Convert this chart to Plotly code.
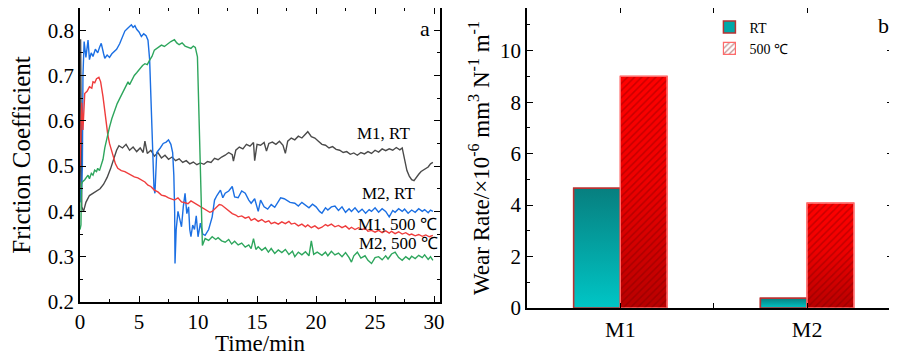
import plotly.graph_objects as go

# ---------------- Panel a: friction coefficient vs time ----------------
t_m1_rt = [0, 0.05, 0.1, 0.15, 0.3, 0.5, 0.8, 1.1, 1.4, 1.7, 2.0, 2.3, 2.6, 2.9, 3.1, 3.3, 3.6, 3.9, 4.2, 4.5,
           4.8, 5.1, 5.35, 5.5, 5.7, 6.0, 6.3, 6.6, 6.9, 7.2, 7.5, 7.8, 8.1, 8.4, 8.7, 9.0, 9.3, 9.6, 9.9, 10.2,
           10.5, 10.8, 11.1, 11.4, 11.7, 12.0, 12.3, 12.6, 12.9, 13.0, 13.2, 13.5, 13.8, 14.1, 14.4, 14.7, 14.8,
           15.0, 15.3, 15.6, 15.8, 16.0, 16.3, 16.6, 16.9, 17.2, 17.4, 17.6, 17.9, 18.2, 18.5, 18.8, 19.1, 19.3,
           19.6, 19.9, 20.2, 20.5, 20.8, 21.1, 21.4, 21.7, 22.0, 22.3, 22.6, 22.9, 23.2, 23.5, 23.8, 24.1, 24.4,
           24.7, 25.0, 25.3, 25.6, 25.9, 26.2, 26.5, 26.8, 27.1, 27.3, 27.5, 27.7, 27.9, 28.1, 28.3, 28.5, 28.7,
           28.9, 29.1, 29.3, 29.5, 29.7, 29.9]
f_m1_rt = [0.42, 0.78, 0.60, 0.41, 0.40, 0.42, 0.435, 0.44, 0.445, 0.45, 0.46, 0.475, 0.495, 0.52, 0.535, 0.545,
           0.54, 0.548, 0.535, 0.542, 0.532, 0.54, 0.53, 0.555, 0.528, 0.535, 0.522, 0.53, 0.518, 0.524, 0.515,
           0.52, 0.512, 0.516, 0.508, 0.512, 0.505, 0.509, 0.503, 0.507, 0.504, 0.51, 0.508, 0.517, 0.514, 0.52,
           0.524, 0.53, 0.525, 0.511, 0.535, 0.542, 0.538, 0.548, 0.544, 0.552, 0.512, 0.548, 0.546, 0.552, 0.533,
           0.55, 0.553, 0.548, 0.555, 0.546, 0.528, 0.555, 0.562, 0.558, 0.566, 0.562, 0.57, 0.576, 0.565, 0.562,
           0.555, 0.548, 0.546, 0.54, 0.543, 0.537, 0.535, 0.53, 0.532, 0.526, 0.529, 0.524, 0.53, 0.527, 0.532,
           0.528, 0.535, 0.531, 0.538, 0.534, 0.538, 0.535, 0.541, 0.536, 0.54, 0.515, 0.49, 0.478, 0.47, 0.468,
           0.476, 0.482, 0.488, 0.492, 0.496, 0.498, 0.505, 0.508]

t_m2_rt = [0, 0.1, 0.2, 0.25, 0.35, 0.5, 0.68, 0.8, 0.95, 1.1, 1.3, 1.5, 1.65, 1.8, 2.0, 2.1, 2.3, 2.5, 2.7, 2.9,
           3.1, 3.36, 3.6, 3.8, 4.0, 4.2, 4.35, 4.5, 4.65, 4.8, 5.0, 5.2, 5.4, 5.6, 5.76, 5.9, 6.05, 6.2, 6.27,
           6.35, 6.5, 6.8, 7.05, 7.3, 7.5, 7.7, 7.85, 7.95, 8.02, 8.05, 8.15, 8.3, 8.45, 8.6, 8.75, 8.9, 9.05,
           9.2, 9.3, 9.4, 9.55, 9.7, 9.85, 10.0, 10.2, 10.4, 10.6, 10.9, 11.2, 11.4, 11.6, 11.9, 12.1, 12.3,
           12.6, 12.9, 13.1, 13.4, 13.7, 14.0, 14.3, 14.5, 14.8, 15.1, 15.3, 15.6, 15.9, 16.2, 16.5, 16.8, 17.0,
           17.3, 17.5, 17.8, 18.2, 18.5, 18.8, 19.1, 19.4, 19.7, 20.0, 20.3, 20.5, 20.8, 21.0, 21.3, 21.6, 21.9,
           22.2, 22.5, 22.8, 23.0, 23.3, 23.6, 23.9, 24.2, 24.5, 24.7, 25.0, 25.3, 25.6, 25.9, 26.2, 26.5, 26.7,
           27.0, 27.3, 27.5, 27.8, 28.1, 28.4, 28.7, 29.0, 29.2, 29.5, 29.7, 29.9]
f_m2_rt = [0.45, 0.42, 0.50, 0.70, 0.775, 0.74, 0.778, 0.735, 0.75, 0.742, 0.758, 0.75, 0.762, 0.771, 0.748,
           0.738, 0.745, 0.74, 0.748, 0.752, 0.758, 0.77, 0.785, 0.798, 0.803, 0.808, 0.812, 0.806, 0.81, 0.802,
           0.796, 0.786, 0.792, 0.788, 0.778, 0.735, 0.62, 0.51, 0.45, 0.44, 0.53, 0.54, 0.55, 0.553, 0.558,
           0.548, 0.53, 0.48, 0.40, 0.285, 0.36, 0.40, 0.38, 0.366, 0.41, 0.44, 0.395, 0.41, 0.36, 0.344, 0.37,
           0.36, 0.39, 0.344, 0.374, 0.35, 0.347, 0.36, 0.388, 0.425, 0.435, 0.447, 0.43, 0.44, 0.445, 0.455,
           0.432, 0.43, 0.445, 0.44, 0.425, 0.418, 0.428, 0.40, 0.425, 0.41, 0.405, 0.415, 0.409, 0.42, 0.43,
           0.428, 0.425, 0.42, 0.418, 0.412, 0.42, 0.414, 0.408, 0.416, 0.41, 0.40, 0.396, 0.408, 0.403, 0.41,
           0.412, 0.402, 0.41, 0.398, 0.406, 0.40, 0.408, 0.398, 0.405, 0.396, 0.404, 0.40, 0.408, 0.398, 0.406,
           0.40, 0.388, 0.402, 0.398, 0.406, 0.40, 0.405, 0.396, 0.403, 0.398, 0.406, 0.40, 0.404, 0.397, 0.403,
           0.40]

t_m1_500 = [0, 0.1, 0.15, 0.25, 0.4, 0.6, 0.8, 1.0, 1.1, 1.25, 1.4, 1.6, 1.75, 1.95, 2.1, 2.2, 2.35, 2.5, 2.65,
            2.8, 3.0, 3.2, 3.5, 3.8, 4.07, 4.3, 4.6, 4.9, 5.2, 5.5, 5.76, 6.0, 6.3, 6.6, 6.9, 7.2, 7.5, 7.8, 8.0,
            8.3, 8.6, 8.9, 9.15, 9.4, 9.7, 10.0, 10.2, 10.5, 10.7, 11.0, 11.2, 11.4, 11.6, 11.8, 12.0, 12.2,
            12.4, 12.6, 12.9, 13.2, 13.4, 13.7, 14.0, 14.3, 14.5, 14.8, 15.1, 15.4, 15.7, 16.0, 16.2, 16.5,
            16.8, 17.1, 17.4, 17.7, 17.9, 18.2, 18.5, 18.8, 19.1, 19.3, 19.6, 19.9, 20.2, 20.5, 20.8, 21.0,
            21.3, 21.6, 21.9, 22.2, 22.5, 22.8, 23.0, 23.3, 23.6, 23.9, 24.2, 24.4, 24.7, 25.0, 25.3, 25.6,
            25.9, 26.2, 26.4, 26.7, 27.0, 27.3, 27.6, 27.9, 28.1, 28.4, 28.7, 29.0, 29.3, 29.6, 29.9]
f_m1_500 = [0.50, 0.60, 0.64, 0.58, 0.66, 0.665, 0.675, 0.672, 0.686, 0.684, 0.693, 0.696, 0.686, 0.653, 0.62,
            0.594, 0.57, 0.55, 0.535, 0.52, 0.505, 0.495, 0.49, 0.488, 0.484, 0.48, 0.476, 0.474, 0.469, 0.465,
            0.458, 0.455, 0.447, 0.443, 0.436, 0.434, 0.43, 0.426, 0.425, 0.43, 0.421, 0.419, 0.417, 0.423,
            0.418, 0.414, 0.41, 0.406, 0.403, 0.398, 0.40, 0.405, 0.41, 0.415, 0.414, 0.41, 0.405, 0.40, 0.395,
            0.392, 0.388, 0.39, 0.385, 0.388, 0.38, 0.384, 0.378, 0.382, 0.376, 0.379, 0.373, 0.376, 0.372,
            0.377, 0.373, 0.378, 0.372, 0.374, 0.368, 0.372, 0.366, 0.37, 0.364, 0.368, 0.362, 0.365, 0.371,
            0.368, 0.372, 0.366, 0.369, 0.364, 0.368, 0.361, 0.365, 0.36, 0.364, 0.36, 0.362, 0.356, 0.358,
            0.354, 0.358, 0.353, 0.357, 0.352, 0.356, 0.351, 0.355, 0.35, 0.353, 0.348, 0.35, 0.346, 0.349,
            0.345, 0.348, 0.344, 0.347]

t_m2_500 = [0, 0.08, 0.12, 0.2, 0.4, 0.55, 0.68, 0.8, 0.96, 1.1, 1.24, 1.4, 1.5, 1.65, 1.8, 1.95, 2.1, 2.3, 2.5,
            2.7, 2.94, 3.15, 3.36, 3.6, 3.8, 4.07, 4.2, 4.35, 4.6, 4.8, 5.05, 5.3, 5.5, 5.7, 5.9, 6.1, 6.3, 6.6,
            6.9, 7.15, 7.45, 7.7, 8.0, 8.2, 8.4, 8.65, 8.9, 9.15, 9.4, 9.6, 9.77, 9.95, 10.06, 10.2, 10.3,
            10.37, 10.6, 10.9, 11.2, 11.5, 11.7, 12.0, 12.3, 12.6, 12.85, 13.1, 13.4, 13.7, 14.0, 14.3, 14.5,
            14.7, 14.9, 15.1, 15.4, 15.7, 15.96, 16.2, 16.5, 16.8, 17.1, 17.4, 17.7, 18.0, 18.2, 18.5, 18.8,
            19.1, 19.4, 19.6, 19.8, 20.1, 20.5, 20.8, 21.0, 21.3, 21.6, 21.9, 22.2, 22.5, 22.8, 23.0, 23.2,
            23.5, 23.8, 24.15, 24.4, 24.7, 25.0, 25.3, 25.6, 25.9, 26.1, 26.4, 26.7, 27.0, 27.3, 27.6, 27.9,
            28.1, 28.4, 28.7, 29.0, 29.2, 29.5, 29.7, 29.9]
f_m2_500 = [0.36, 0.37, 0.46, 0.465, 0.47, 0.476, 0.48, 0.472, 0.484, 0.48, 0.491, 0.488, 0.495, 0.49, 0.505,
            0.515, 0.54, 0.565, 0.586, 0.605, 0.623, 0.638, 0.649, 0.662, 0.675, 0.686, 0.68, 0.688, 0.70,
            0.706, 0.715, 0.722, 0.726, 0.724, 0.734, 0.742, 0.756, 0.762, 0.767, 0.764, 0.771, 0.775, 0.779,
            0.772, 0.768, 0.772, 0.765, 0.762, 0.76, 0.765, 0.762, 0.741, 0.623, 0.498, 0.40, 0.325, 0.34,
            0.336, 0.344, 0.338, 0.342, 0.335, 0.332, 0.338, 0.328, 0.334, 0.326, 0.33, 0.321, 0.326, 0.318,
            0.34, 0.316, 0.322, 0.314, 0.32, 0.31, 0.318, 0.307, 0.315, 0.309, 0.316, 0.305, 0.312, 0.30, 0.31,
            0.304, 0.311, 0.302, 0.335, 0.305, 0.31, 0.303, 0.31, 0.302, 0.312, 0.304, 0.308, 0.30, 0.309,
            0.298, 0.288, 0.302, 0.31, 0.297, 0.302, 0.292, 0.285, 0.298, 0.30, 0.293, 0.302, 0.295, 0.306,
            0.31, 0.298, 0.292, 0.30, 0.294, 0.301, 0.296, 0.303, 0.298, 0.304, 0.294, 0.30, 0.292]

line_labels = ["M1, RT", "M2, RT", "M1, 500 ℃", "M2, 500 ℃"]
label_t = [25.7, 26.1, 26.9, 27.0]
label_f = [0.573, 0.439, 0.372, 0.330]
time_ticks = [0, 5, 10, 15, 20, 25, 30]
cof_ticks = [0.2, 0.3, 0.4, 0.5, 0.6, 0.7, 0.8]

# ---------------- Panel b: wear rate ----------------
materials = ["M1", "M2"]
wear_rt = [4.65, 0.38]
wear_500 = [9.0, 4.08]
bar_series = ["RT", "500 ℃"]
wear_ticks = [0, 2, 4, 6, 8, 10]

FONT = "Times New Roman, Liberation Serif, Tinos, serif"
C_GRAY, C_BLUE, C_RED, C_GREEN = "#4a4a4a", "#1b6fe3", "#ef3c3c", "#2ea65d"

fig = go.Figure()

for t, f, c in [(t_m1_rt, f_m1_rt, C_GRAY), (t_m2_rt, f_m2_rt, C_BLUE),
                (t_m1_500, f_m1_500, C_RED), (t_m2_500, f_m2_500, C_GREEN)]:
    fig.add_trace(go.Scatter(x=t, y=f, mode="lines", line=dict(color=c, width=1.4),
                             showlegend=False, xaxis="x", yaxis="y"))

BW = 0.25
cat_x = list(range(len(materials)))

# legend / base bars
fig.add_trace(go.Bar(x=cat_x, y=wear_rt, width=BW, offset=-BW, name=bar_series[0],
                     marker=dict(color="#00a8a8", line=dict(color="#b83232", width=1.5)),
                     xaxis="x2", yaxis="y2"))
fig.add_trace(go.Bar(x=cat_x, y=wear_500, width=BW, offset=0, name=bar_series[1],
                     marker=dict(color="#f00000", line=dict(color="#ff6a6a", width=1.2),
                                 pattern=dict(shape="/", fgcolor="#700000", fgopacity=0.45, size=5, solidity=0.3)),
                     xaxis="x2", yaxis="y2"))

# gradient overlays on the bars, built from the same values
for i, v in zip(cat_x, wear_rt):
    x0, x1 = i - BW, i
    fig.add_trace(go.Scatter(x=[x0, x0, x1, x1, x0], y=[0, v, v, 0, 0], mode="lines", fill="toself",
                             line=dict(color="#b83232", width=1.5),
                             fillgradient=dict(type="vertical", colorscale=[[0, "#00c6c6"], [1, "#077f7f"]]),
                             showlegend=False, hoverinfo="skip", xaxis="x2", yaxis="y2"))
for i, v in zip(cat_x, wear_500):
    x0, x1 = i, i + BW
    fig.add_trace(go.Scatter(x=[x0, x0, x1, x1, x0], y=[0, v, v, 0, 0], mode="lines", fill="toself",
                             line=dict(color="#ff6a6a", width=1.2),
                             fillgradient=dict(type="vertical", colorscale=[[0, "#b80000"], [0.55, "#ee0000"], [1, "#ff0000"]]),
                             showlegend=False, hoverinfo="skip", xaxis="x2", yaxis="y2"))
    fig.add_trace(go.Scatter(x=[x0, x0, x1, x1, x0], y=[0, v, v, 0, 0], mode="lines", fill="toself",
                             line=dict(color="#ff6a6a", width=1.2), fillcolor="rgba(0,0,0,0)",
                             fillpattern=dict(shape="/", fgcolor="#6a0000", fgopacity=0.35, size=5,
                                              solidity=0.3, bgcolor="rgba(0,0,0,0)"),
                             showlegend=False, hoverinfo="skip", xaxis="x2", yaxis="y2"))

axis_common = dict(showline=True, linecolor="black", mirror="ticks", ticks="inside", tickcolor="black",
                   showgrid=False, zeroline=False, automargin=False,
                   tickfont=dict(family=FONT, size=21, color="black"))

annotations = []
for txt, tx, fy in zip(line_labels, label_t, label_f):
    annotations.append(dict(x=tx, y=fy, xref="x", yref="y", text=txt, showarrow=False,
                            xanchor="center", yanchor="middle",
                            font=dict(family=FONT, size=17, color="black")))
annotations.append(dict(x=0.469, y=0.9425, xref="paper", yref="paper", text="a", showarrow=False,
                        xanchor="center", yanchor="middle", font=dict(family=FONT, size=22, color="black")))
annotations.append(dict(x=0.9848, y=0.951, xref="paper", yref="paper", text="b", showarrow=False,
                        xanchor="center", yanchor="middle", font=dict(family=FONT, size=22, color="black")))

# The page places the figure 8 px from the window's top-left corner, so the figure
# is 889x348 and domains are set so the panels land where the reference has them.
fig.update_layout(
    template="none",
    width=889, height=348, margin=dict(l=0, r=0, t=0, b=0),
    paper_bgcolor="white", plot_bgcolor="white",
    font=dict(family=FONT, color="black"),
    xaxis=dict(domain=[0.0810, 0.4859], range=[0, 30.5], tickvals=time_ticks,
               ticklen=6, linewidth=1.6, tickwidth=1.4,
               minor=dict(ticks="inside", ticklen=3, dtick=2.5, tick0=0, tickcolor="black"),
               title=dict(text="Time/min", font=dict(family=FONT, size=23), standoff=0), **axis_common),
    yaxis=dict(domain=[0.1552, 1.0], range=[0.2, 0.849], tickvals=cof_ticks,
               ticklen=6, linewidth=1.6, tickwidth=1.4,
               minor=dict(ticks="inside", ticklen=3, dtick=0.05, tick0=0.2, tickcolor="black"),
               title=dict(text="Friction Coefficient", font=dict(family=FONT, size=25), standoff=15),
               **axis_common),
    xaxis2=dict(domain=[0.5838, 0.9955], range=[-0.5, 1.46], anchor="y2",
                tickvals=cat_x, ticktext=materials, ticklen=5, tickwidth=1.4, linewidth=2.4,
                minor=dict(ticks="inside", ticklen=5, tickvals=[0.5, 1.5], tickcolor="black"),
                **{**axis_common, "tickfont": dict(family=FONT, size=22, color="black")}),
    yaxis2=dict(domain=[0.1379, 1.0], range=[0, 11.66], anchor="x2", tickvals=wear_ticks,
                ticklen=6, linewidth=1.8, tickwidth=1.4,
                minor=dict(ticks="inside", ticklen=3, dtick=1, tick0=0, tickcolor="black"),
                title=dict(text="Wear Rate/×10<sup>-6</sup> mm<sup>3</sup> N<sup>-1</sup> m<sup>-1</sup>",
                           font=dict(family=FONT, size=23), standoff=4),
                **axis_common),
    barmode="overlay",
    legend=dict(x=0.789, y=0.99, xanchor="left", yanchor="top", bgcolor="rgba(0,0,0,0)",
                font=dict(family=FONT, size=14, color="black"), tracegroupgap=0, itemwidth=30),
    annotations=annotations,
)

fig.write_html("out.html")
